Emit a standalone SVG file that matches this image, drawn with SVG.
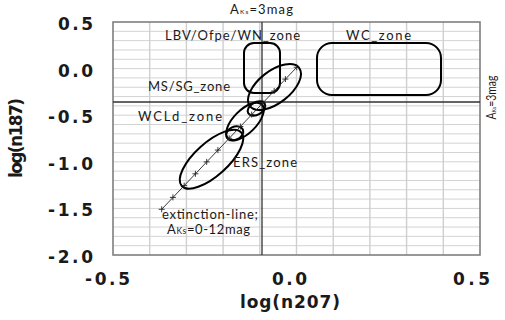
<svg xmlns="http://www.w3.org/2000/svg" width="505" height="320" viewBox="0 0 505 320">
<style>
.grid{stroke:#d3d3d3;stroke-width:1;fill:none}
.vgrid{stroke:#cfcfcf;stroke-width:1.4;fill:none}
.frame{fill:none;stroke:#7f7f7f;stroke-width:1.6}
.cross{stroke:#333;stroke-width:1.3;fill:none}
.zone{fill:none;stroke:#000;stroke-width:2}
.ext{stroke:#222;stroke-width:0.9;fill:none}
.tick{stroke:#222;stroke-width:0.9;fill:none}
.lbl{font-family:Lato,"DejaVu Sans",sans-serif;font-size:13px;fill:#1a1a1a}
.ax{font-family:"DejaVu Sans",sans-serif;font-weight:bold;font-size:17px;fill:#1a1a1a}
.title{font-family:"DejaVu Sans",sans-serif;font-weight:bold;font-size:17px;fill:#1a1a1a}
</style>
<rect width="505" height="320" fill="#fff"/>
<g id="grid">
<path class="grid" d="M113 31.32H480M113 40.64H480M113 49.96H480M113 59.28H480M113 68.6H480M113 77.92H480M113 87.24H480M113 96.56H480M113 105.88H480M113 115.2H480M113 124.52H480M113 133.84H480M113 143.16H480M113 152.48H480M113 161.8H480M113 171.12H480M113 180.44H480M113 189.76H480M113 199.08H480M113 208.4H480M113 217.72H480M113 227.04H480M113 236.36H480M113 245.68H480"/>
<path class="vgrid" d="M149.7 22V255M186.4 22V255M223.1 22V255M259.8 22V255M296.5 22V255M333.2 22V255M369.9 22V255M406.6 22V255M443.3 22V255"/>
<rect class="frame" x="113" y="22" width="367" height="233"/>
<path class="cross" d="M262 22V255M113 102H480"/>
</g>
<g id="axes">
<text class="ax" x="93" y="30" text-anchor="end" textLength="35">0.5</text>
<text class="ax" x="93" y="76.6" text-anchor="end" textLength="35">0.0</text>
<text class="ax" x="93" y="123.2" text-anchor="end" textLength="45">-0.5</text>
<text class="ax" x="93" y="169.8" text-anchor="end" textLength="45">-1.0</text>
<text class="ax" x="93" y="216.4" text-anchor="end" textLength="45">-1.5</text>
<text class="ax" x="93" y="263" text-anchor="end" textLength="45">-2.0</text>
<text class="ax" x="107.5" y="285" text-anchor="middle" textLength="45">-0.5</text>
<text class="ax" x="289.5" y="285" text-anchor="middle" textLength="35">0.0</text>
<text class="ax" x="471.5" y="285" text-anchor="middle" textLength="37">0.5</text>
<text class="title" x="290" y="308" text-anchor="middle" textLength="100">log(n207)</text>
<text class="title" transform="translate(22 138) rotate(-90)" text-anchor="middle" font-size="16" font-weight="600" textLength="80">log(n187)</text>
</g>
<g id="ak-labels">
<text class="lbl" x="230" y="13.5" font-size="9.5" textLength="63">A<tspan font-size="6.5">Ks</tspan>=3mag</text>
<text class="lbl" transform="translate(496 97.5) rotate(-90) scale(0.8 1)" text-anchor="middle" font-size="10">A<tspan font-size="6.5">Ks</tspan>=3mag</text>
</g>
<g id="LBV_zone">
<rect class="zone" x="244" y="43" width="36" height="50" rx="10"/>
<text class="lbl" x="165" y="40" textLength="135">LBV/Ofpe/WN_zone</text>
</g>
<g id="WC_zone">
<rect class="zone" x="317" y="43" width="124" height="52" rx="15"/>
<text class="lbl" x="346" y="40" textLength="65">WC_zone</text>
</g>
<g id="MS_SG_zone">
<ellipse class="zone" cx="274.5" cy="87" rx="31.2" ry="16" transform="rotate(-38 274.5 87)"/>
<text class="lbl" x="148" y="90.5" textLength="82">MS/SG_zone</text>
</g>
<g id="small_zone_1">
<ellipse class="zone" cx="256.5" cy="108.5" rx="9.5" ry="6.2" transform="rotate(-30 256.5 108.5)"/>
</g>
<g id="WCLd_zone">
<ellipse class="zone" cx="245" cy="121.5" rx="24" ry="11.5" transform="rotate(-45 245 121.5)"/>
<text class="lbl" x="138" y="121" textLength="84">WCLd_zone</text>
</g>
<g id="small_zone_2">
<ellipse class="zone" cx="234.7" cy="133.3" rx="9" ry="6.5" transform="rotate(-25 234.7 133.3)"/>
</g>
<g id="ERS_zone">
<ellipse class="zone" cx="211.5" cy="159.2" rx="40" ry="16.5" transform="rotate(-42 211.5 159.2)"/>
<text class="lbl" x="233" y="167" textLength="64">ERS_zone</text>
</g>
<g id="connectors">
<path class="ext" d="M161.7 209.3L296.7 67.3"/>
<path class="tick" d="M293.7 67.3h6M296.7 64.3v6M282.4 79.1h6M285.4 76.1v6M271.2 91h6M274.2 88v6M259.9 102.8h6M262.9 99.8v6M248.7 114.6h6M251.7 111.6v6M237.4 126.5h6M240.4 123.5v6M226.2 138.3h6M229.2 135.3v6M214.9 150.1h6M217.9 147.1v6M203.7 161.9h6M206.7 158.9v6M192.4 173.8h6M195.4 170.8v6M181.2 185.6h6M184.2 182.6v6M169.9 197.4h6M172.9 194.4v6M158.7 209.3h6M161.7 206.3v6"/>
</g>
<g id="extinction_label">
<text class="lbl" x="162" y="219" textLength="96">extinction-line;</text>
<text class="lbl" x="167" y="233.5" textLength="83">A<tspan font-size="8.5">Ks</tspan>=0-12mag</text>
</g>
</svg>
